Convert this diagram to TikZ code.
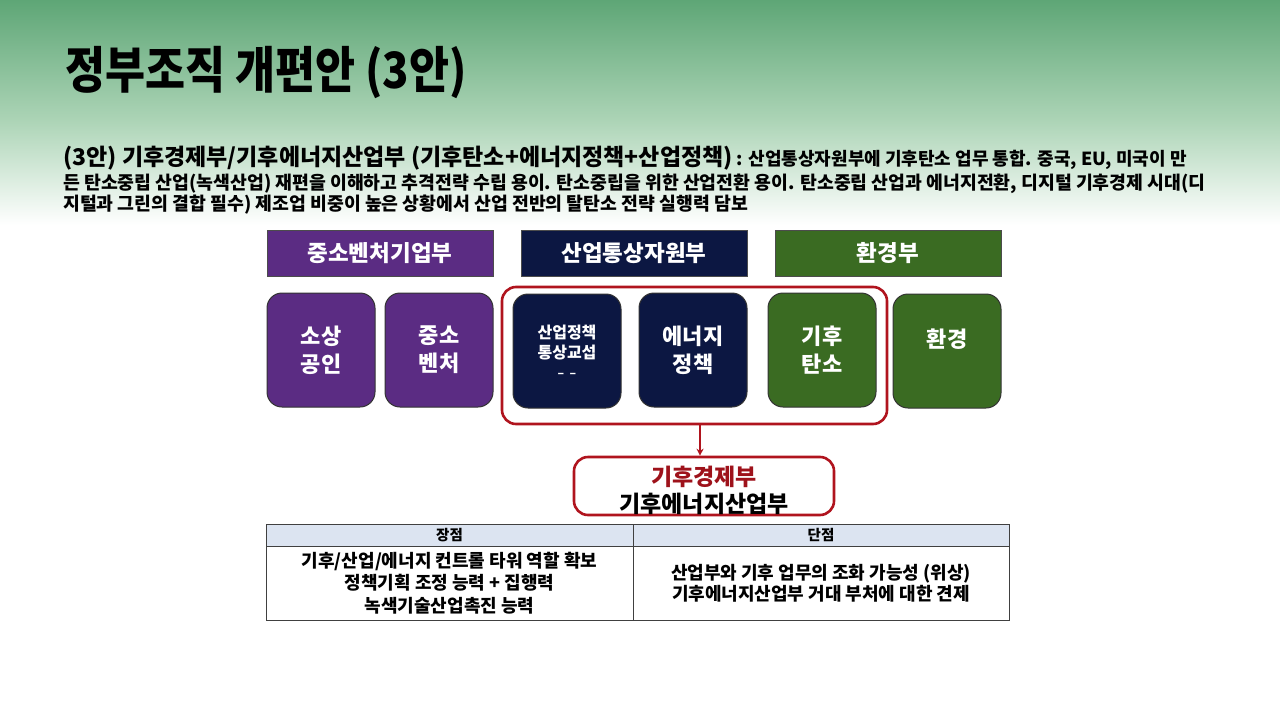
\documentclass[tikz,border=0pt]{standalone}
\usepackage{fontspec}
\setmainfont{Noto Sans CJK KR}
\usetikzlibrary{arrows.meta}
\definecolor{purp}{HTML}{5B2C83}
\definecolor{navy}{HTML}{0C1742}
\definecolor{grn}{HTML}{3A6B22}
\definecolor{redc}{HTML}{B0141E}
\definecolor{bgtop}{RGB}{94,166,118}
\definecolor{bgmid}{RGB}{172,212,182}
\definecolor{thead}{HTML}{DCE4F1}
\tikzset{
  hdr/.style={draw=black!70, line width=0.8pt, minimum width=226pt, minimum height=46pt, inner sep=0pt,
    text=white, font=\fontsize{22.5}{26}\selectfont\bfseries},
  unit/.style={draw=black!80, line width=1pt, rounded corners=15pt, minimum width=108pt, minimum height=114pt,
    inner sep=0pt, text=white, align=center, font=\fontsize{22}{30}\selectfont\bfseries},
  redline/.style={draw=redc, line width=2.6pt, rounded corners=14pt},
  celltxt/.style={align=center, font=\fontsize{18}{22.5}\selectfont\bfseries},
}
\begin{document}
\begin{tikzpicture}[x=1pt,y=-1pt]
\useasboundingbox (0,0) rectangle (1280,715);
\fill[white] (0,0) rectangle (1280,715);
\shade[top color=bgtop, bottom color=bgmid] (0,0) rectangle (1280,120);
\shade[top color=bgmid, bottom color=white] (0,120) rectangle (1280,225);
% title
\node[anchor=base west, inner sep=0pt, font=\fontsize{50}{50}\selectfont\bfseries, xscale=0.87] (title) at (65,88) {정부조직 개편안 (3안)};
% description
\node[anchor=base west, inner sep=0pt] (d1) at (63,165) {{\fontsize{23}{26}\selectfont\bfseries (3안) 기후경제부/기후에너지산업부 (기후탄소+에너지정책+산업정책)}{\fontsize{18}{20}\selectfont\bfseries\ : 산업통상자원부에 기후탄소 업무 통합. 중국, EU, 미국이 만}};
\node[anchor=base west, inner sep=0pt, font=\fontsize{18.3}{20}\selectfont\bfseries] (d2) at (63,189) {든 탄소중립 산업(녹색산업) 재편을 이해하고 추격전략 수립 용이. 탄소중립을 위한 산업전환 용이. 탄소중립 산업과 에너지전환, 디지털 기후경제 시대(디};
\node[anchor=base west, inner sep=0pt, font=\fontsize{18.3}{20}\selectfont\bfseries] (d3) at (63,210) {지털과 그린의 결합 필수) 제조업 비중이 높은 상황에서 산업 전반의 탈탄소 전략 실행력 담보};
% headers
\node[hdr, fill=purp] (h1) at (380,253) {중소벤처기업부};
\node[hdr, fill=navy] (h2) at (634,253) {산업통상자원부};
\node[hdr, fill=grn] (h3) at (888,253) {환경부};
% units
\node[unit, fill=purp] (u1) at (321,350) {소상\\[-2pt]공인};
\node[unit, fill=purp] (u2) at (439,350) {중소\\[-2pt]벤처};
\node[unit, fill=navy, font=\fontsize{16}{20}\selectfont\bfseries] (u3) at (567,351) {\raisebox{3pt}{산업정책}\\\raisebox{3pt}{통상교섭}\\[-4pt]{\fontsize{12}{12}\selectfont –\ \ –}};
\node[unit, fill=navy] (u4) at (693,350) {에너지\\[-2pt]정책};
\node[unit, fill=grn] (u5) at (822,350) {기후\\[-2pt]탄소};
\node[unit, fill=grn, text depth=0pt] (u6) at (947,351) {\raisebox{26pt}{환경}};
% red grouping
\node[redline, minimum width=385pt, minimum height=137pt] (grp) at (694.5,355.5) {};
% result
\node[redline, fill=white, minimum width=260pt, minimum height=58pt, inner sep=0pt] (res) at (704,486) {};
\node[align=center, inner sep=0pt, font=\fontsize{23}{27}\selectfont\bfseries] (restext) at (704,490)
  {\textcolor{redc!90!black}{기후경제부}\\기후에너지산업부};
\draw[redc, line width=1.6pt, -{Stealth[length=7pt,width=7pt]}] (grp.south -| 700,0) -- (res.north -| 700,0);
% table
\fill[thead] (266,524) rectangle (1009,546);
\draw[black!75, line width=0.8pt] (266,524) rectangle (1009,620);
\draw[black!75, line width=0.8pt] (266,546) -- (1009,546);
\draw[black!75, line width=0.8pt] (633,524) -- (633,620);
\node[font=\fontsize{14.5}{15}\selectfont\bfseries] (th1) at (449.5,535) {장점};
\node[font=\fontsize{14.5}{15}\selectfont\bfseries] (th2) at (821,535) {단점};
\node[celltxt] (c1) at (449.5,583) {기후/산업/에너지 컨트롤 타워 역할 확보\\정책기획 조정 능력 + 집행력\\녹색기술산업촉진 능력};
\node[celltxt, font=\fontsize{18}{21}\selectfont\bfseries] (c2) at (821,583) {산업부와 기후 업무의 조화 가능성 (위상)\\기후에너지산업부 거대 부처에 대한 견제};
\end{tikzpicture}
\end{document}
